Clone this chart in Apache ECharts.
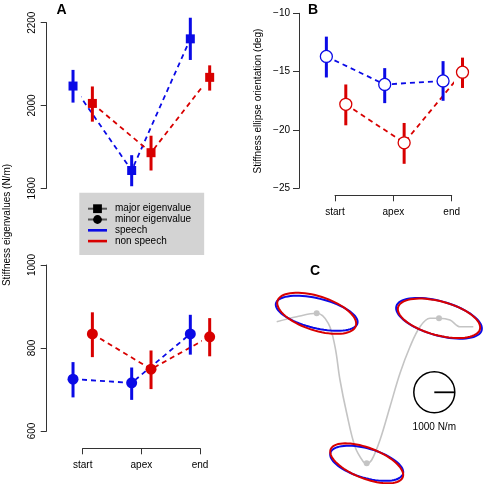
<!DOCTYPE html>
<html><head><meta charset="utf-8">
<script src="https://cdn.jsdelivr.net/npm/echarts@6/dist/echarts.min.js"></script>
<style>html,body{margin:0;padding:0;background:#fff}#c{width:489px;height:484px}</style>
</head><body><div id="c"></div>
<script>
// ---------- data ----------
const phases = ['start', 'apex', 'end'];
const phasePos = [1, 2, 3];

const majorSpeech   = [2047, 1843, 2161];
const majorSpeechLo = [2007, 1805, 2110];
const majorSpeechHi = [2086, 1880, 2212];
const majorNon      = [2005, 1886, 2068];
const majorNonLo    = [1961, 1843, 2036];
const majorNonHi    = [2046, 1927, 2097];

const minorSpeech   = [725, 716, 834];
const minorSpeechLo = [681, 675, 784];
const minorSpeechHi = [766, 753, 880];
const minorNon      = [834, 749, 827];
const minorNonLo    = [778, 701, 780];
const minorNonHi    = [886, 794, 872];

const orientSpeech   = [-13.7, -16.1, -15.8];
const orientSpeechLo = [-15.5, -17.7, -17.5];
const orientSpeechHi = [-12.0, -14.7, -14.1];
const orientNon      = [-17.8, -21.1, -15.05];
const orientNonLo    = [-19.6, -22.9, -16.4];
const orientNonHi    = [-16.1, -19.4, -13.8];

// movement trajectory (panel C, arbitrary units)
const trajX = [36.7, 56.7, 76.7, 88.3, 95, 100, 106.7, 115, 123.3, 126.7, 131.7, 140, 150, 160, 170, 180, 190, 199, 210, 220, 233.3];
const trajY = [71.7, 66.7, 63.3, 73.3, 96.7, 130, 163.3, 196.7, 211.7, 213.3, 210, 190, 156.7, 123.3, 96.7, 76.7, 68.3, 68.3, 70, 76.7, 76.7];
const keyIdx = [2, 9, 17];
const scaleForce = 1000;          // N/m reference circle
const scaleCenter = [194.3, 142.3];

// ---------- helpers ----------
const FONT = 'Liberation Sans, Arial, Helvetica, sans-serif';
const BLUE = '#0a0ae6', RED = '#d80000', AX = '#333';
const offB = -0.165, offR = 0.165;
const offB2 = -0.148, offR2 = 0.185;
const unitsPerN = 20.5 / 1000;

function pts(vals, off) { return vals.map((v, i) => [phasePos[i] + off, v]); }
function errs(lo, hi, off) { return lo.map((l, i) => [phasePos[i] + off, l, hi[i]]); }

function errRender(params, api) {
  const p1 = api.coord([api.value(0), api.value(1)]);
  const p2 = api.coord([api.value(0), api.value(2)]);
  return { type: 'line', shape: { x1: p1[0], y1: p1[1], x2: p2[0], y2: p2[1] },
    style: { stroke: api.visual('color'), lineWidth: 3 } };
}
function ellRender(params, api) {
  const c = api.coord([api.value(0), api.value(1)]);
  const s = api.size([1, 1]);
  const a = api.value(2) * unitsPerN * s[0];
  const b = api.value(3) * unitsPerN * s[0];
  const th = api.value(4) * Math.PI / 180;
  const points = [];
  for (let k = 0; k < 72; k++) {
    const t = k / 72 * 2 * Math.PI;
    const xu = a * Math.cos(t) * Math.cos(th) - b * Math.sin(t) * Math.sin(th);
    const yu = a * Math.cos(t) * Math.sin(th) + b * Math.sin(t) * Math.cos(th);
    points.push([c[0] + xu, c[1] - yu]);
  }
  return { type: 'polygon', shape: { points }, style: { fill: 'none', stroke: api.visual('color'), lineWidth: 2 } };
}
function scaleRender(params, api) {
  const c = api.coord([api.value(0), api.value(1)]);
  const s = api.size([1, 1]);
  const r = api.value(2) * unitsPerN * s[0];
  return { type: 'group', children: [
    { type: 'circle', shape: { cx: c[0], cy: c[1], r }, style: { fill: 'none', stroke: '#000', lineWidth: 1.5 } },
    { type: 'line', shape: { x1: c[0], y1: c[1], x2: c[0] + r, y2: c[1] }, style: { stroke: '#000', lineWidth: 1.8 } },
    { type: 'text', x: c[0], y: c[1] + r + 14, style: { text: '1000 N/m', align: 'center', verticalAlign: 'middle', fontSize: 10, fontFamily: FONT, fill: '#000' } }
  ] };
}

function ellData(maj, min, ori) {
  return keyIdx.map((k, i) => [trajX[k], trajY[k], maj[i], min[i], ori[i]]);
}

const yAxisBase = {
  axisLine: { show: true, lineStyle: { color: AX, width: 1 } },
  axisTick: { show: true, inside: false, length: 6, lineStyle: { color: AX } },
  splitLine: { show: false },
  offset: 36,
  axisLabel: { color: '#000', fontSize: 10, fontFamily: FONT, formatter: v => String(v) }
};
const xAxisBase = {
  type: 'value', min: 1, max: 3, interval: 1,
  axisLine: { show: true, lineStyle: { color: AX, width: 1 } },
  axisTick: { show: true, length: 6, lineStyle: { color: AX } },
  splitLine: { show: false },
  axisLabel: { color: '#000', fontSize: 10, fontFamily: FONT, margin: 12, formatter: v => phases[phasePos.indexOf(v)] || '' }
};

const dash = (color, x, y, data) => ({ type: 'line', xAxisIndex: x, yAxisIndex: y, data, symbol: 'none', clip: false, z: 1,
  lineStyle: { color, width: 1.8, type: [5, 4] }, silent: true });
const err = (color, x, y, data) => ({ type: 'custom', xAxisIndex: x, yAxisIndex: y, data, renderItem: errRender, clip: false, z: 2,
  itemStyle: { color }, encode: { x: 0, y: [1, 2] }, silent: true });
const pts2 = (color, x, y, data, symbol, size, hollow) => ({ type: 'scatter', xAxisIndex: x, yAxisIndex: y, data, symbol, symbolSize: size, clip: false, z: 3,
  itemStyle: hollow ? { color: '#fff', borderColor: color, borderWidth: 1.3, opacity: 1 } : { color, opacity: 1 }, silent: true });

const barIcon = 'path://M0,0 L19,0 L19,2.6 L0,2.6 Z';

const option = {
  animation: false,
  backgroundColor: '#fff',
  textStyle: { fontFamily: FONT },
  grid: [
    { left: 82.7, width: 117.3, top: 22.7, height: 165.6 },
    { left: 82.7, width: 117.3, top: 265, height: 166 },
    { left: 335, width: 116.7, top: 13.3, height: 175 },
    { left: 240, width: 249, top: 250, height: 234 }
  ],
  xAxis: [
    Object.assign({}, xAxisBase, { gridIndex: 0, show: false }),
    Object.assign({}, xAxisBase, { gridIndex: 1, offset: 17.3 }),
    Object.assign({}, xAxisBase, { gridIndex: 2, offset: 7 }),
    { type: 'value', gridIndex: 3, min: 0, max: 249, show: false }
  ],
  yAxis: [
    Object.assign({}, yAxisBase, { type: 'value', gridIndex: 0, min: 1800, max: 2200, interval: 200,
      axisLabel: Object.assign({}, yAxisBase.axisLabel, { rotate: 90, margin: 9 }) }),
    Object.assign({}, yAxisBase, { type: 'value', gridIndex: 1, min: 600, max: 1000, interval: 200,
      axisLabel: Object.assign({}, yAxisBase.axisLabel, { rotate: 90, margin: 9 }) }),
    Object.assign({}, yAxisBase, { type: 'value', gridIndex: 2, min: -25, max: -10, interval: 5,
      axisLabel: Object.assign({}, yAxisBase.axisLabel, { margin: 9, formatter: v => String(v).replace('-', '\u2212') }) }),
    { type: 'value', gridIndex: 3, min: 0, max: 234, inverse: true, show: false }
  ],
  legend: {
    data: [
      { name: 'major eigenvalue' },
      { name: 'minor eigenvalue' },
      { name: 'speech', icon: barIcon },
      { name: 'non speech', icon: barIcon }
    ],
    orient: 'vertical', left: 79.3, top: 192.7,
    itemWidth: 19, itemHeight: 11, itemGap: 0.8,
    padding: [11, 13, 9, 7.7],
    backgroundColor: '#d3d3d3',
    textStyle: { fontSize: 10, fontFamily: FONT, color: '#000', padding: [0, 0, 0, 3] },
    selectedMode: false
  },
  graphic: [
    { type: 'text', x: 7.5, y: 225, rotation: Math.PI / 2, style: { text: 'Stiffness eigenvalues (N/m)', align: 'center', verticalAlign: 'middle', fontSize: 10, fontFamily: FONT, fill: '#000' } },
    { type: 'text', x: 258, y: 101, rotation: Math.PI / 2, style: { text: 'Stiffness ellipse orientation (deg)', align: 'center', verticalAlign: 'middle', fontSize: 10, fontFamily: FONT, fill: '#000' } },
    { type: 'text', x: 61.5, y: 10, style: { text: 'A', align: 'center', verticalAlign: 'middle', fontSize: 14, fontWeight: 'bold', fontFamily: FONT, fill: '#000' } },
    { type: 'text', x: 313, y: 10, style: { text: 'B', align: 'center', verticalAlign: 'middle', fontSize: 14, fontWeight: 'bold', fontFamily: FONT, fill: '#000' } },
    { type: 'text', x: 315, y: 271, style: { text: 'C', align: 'center', verticalAlign: 'middle', fontSize: 14, fontWeight: 'bold', fontFamily: FONT, fill: '#000' } }
  ],
  series: [
    // legend-only series
    { name: 'major eigenvalue', type: 'line', data: [], symbol: 'rect', itemStyle: { color: '#000' }, lineStyle: { color: '#555', width: 1.5 } },
    { name: 'minor eigenvalue', type: 'line', data: [], symbol: 'circle', itemStyle: { color: '#000' }, lineStyle: { color: '#555', width: 1.5 } },
    { name: 'speech', type: 'line', data: [], symbol: 'none', itemStyle: { color: BLUE }, lineStyle: { color: BLUE, width: 2.5 } },
    { name: 'non speech', type: 'line', data: [], symbol: 'none', itemStyle: { color: RED }, lineStyle: { color: RED, width: 2.5 } },

    // Panel A top: major eigenvalues
    dash(BLUE, 0, 0, pts(majorSpeech, offB)),
    dash(RED, 0, 0, pts(majorNon, offR)),
    err(BLUE, 0, 0, errs(majorSpeechLo, majorSpeechHi, offB)),
    err(RED, 0, 0, errs(majorNonLo, majorNonHi, offR)),
    pts2(BLUE, 0, 0, pts(majorSpeech, offB), 'rect', 9),
    pts2(RED, 0, 0, pts(majorNon, offR), 'rect', 9),

    // Panel A bottom: minor eigenvalues
    dash(BLUE, 1, 1, pts(minorSpeech, offB)),
    dash(RED, 1, 1, pts(minorNon, offR)),
    err(BLUE, 1, 1, errs(minorSpeechLo, minorSpeechHi, offB)),
    err(RED, 1, 1, errs(minorNonLo, minorNonHi, offR)),
    pts2(BLUE, 1, 1, pts(minorSpeech, offB), 'circle', 11),
    pts2(RED, 1, 1, pts(minorNon, offR), 'circle', 11),

    // Panel B: orientation
    dash(BLUE, 2, 2, pts(orientSpeech, offB2)),
    dash(RED, 2, 2, pts(orientNon, offR2)),
    err(BLUE, 2, 2, errs(orientSpeechLo, orientSpeechHi, offB2)),
    err(RED, 2, 2, errs(orientNonLo, orientNonHi, offR2)),
    pts2(BLUE, 2, 2, pts(orientSpeech, offB2), 'circle', 12, true),
    pts2(RED, 2, 2, pts(orientNon, offR2), 'circle', 12, true),

    // Panel C: trajectory + ellipses
    { type: 'line', xAxisIndex: 3, yAxisIndex: 3, data: trajX.map((x, i) => [x, trajY[i]]), smooth: 0.35, symbol: 'none', clip: false,
      lineStyle: { color: '#c4c4c4', width: 1.6 }, z: 1, silent: true },
    { type: 'scatter', xAxisIndex: 3, yAxisIndex: 3, data: keyIdx.map(k => [trajX[k], trajY[k]]), symbolSize: 6, clip: false,
      itemStyle: { color: '#c4c4c4', opacity: 1 }, z: 1, silent: true },
    { type: 'custom', xAxisIndex: 3, yAxisIndex: 3, data: ellData(majorSpeech, minorSpeech, orientSpeech), renderItem: ellRender, clip: false,
      itemStyle: { color: BLUE }, z: 2, silent: true },
    { type: 'custom', xAxisIndex: 3, yAxisIndex: 3, data: ellData(majorNon, minorNon, orientNon), renderItem: ellRender, clip: false,
      itemStyle: { color: RED }, z: 3, silent: true },
    { type: 'custom', xAxisIndex: 3, yAxisIndex: 3, data: [[scaleCenter[0], scaleCenter[1], scaleForce]], renderItem: scaleRender, clip: false,
      itemStyle: { color: '#000' }, z: 3, silent: true }
  ]
};

const chart = echarts.init(document.getElementById('c'), null, { renderer: 'canvas' });
chart.setOption(option);
</script>
</body></html>
